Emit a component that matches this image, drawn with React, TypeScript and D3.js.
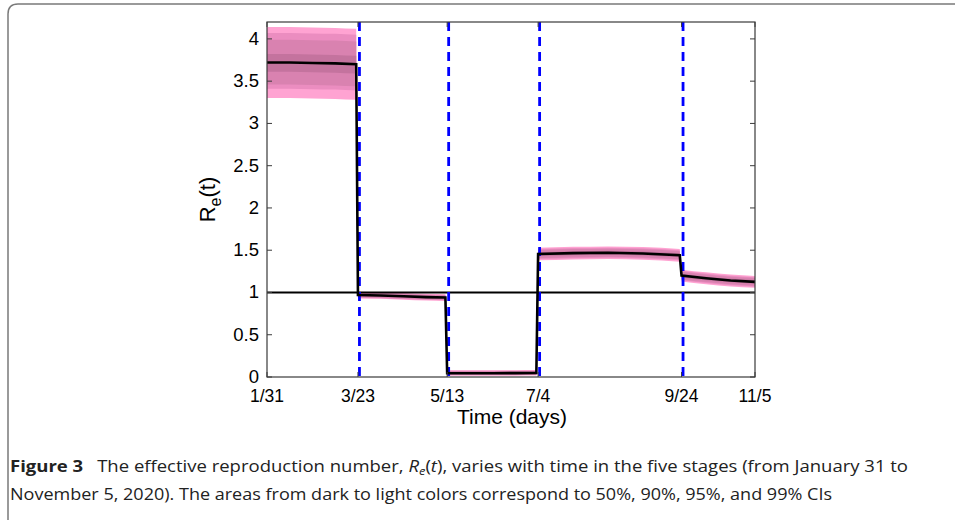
import React from "react";
import * as d3 from "d3";

// Day offsets measured from January 31, 2020
const dashedDays = [52, 103, 155, 237];
const xTickDays = [0, 52, 103, 155, 237, 279];
const xTickLabels = ["1/31", "3/23", "5/13", "7/4", "9/24", "11/5"];
const yTicks = [0, 0.5, 1, 1.5, 2, 2.5, 3, 3.5, 4];
const yTickLabels = ["0", "0.5", "1", "1.5", "2", "2.5", "3", "3.5", "4"];

// Per-stage sample days and median R_e(t)
const stageDays = [
  [0, 13, 26, 39, 51],
  [52, 65, 78, 91, 102],
  [103, 116, 129, 142, 154],
  [155, 175, 195, 215, 236],
  [237, 251, 265, 279],
];
const stageMedian = [
  [3.72, 3.72, 3.715, 3.71, 3.7],
  [0.97, 0.965, 0.955, 0.945, 0.94],
  [0.045, 0.045, 0.045, 0.046, 0.047],
  [1.455, 1.465, 1.47, 1.462, 1.44],
  [1.2, 1.168, 1.142, 1.125],
];
// Offsets below / above the median for the 99%, 95%, 90%, 50% credible bands
const ciLabels = ["99%", "95%", "90%", "50%"];
const ciLower = [
  [0.42, 0.31, 0.26, 0.11],
  [0.04, 0.032, 0.026, 0.012],
  [0.03, 0.022, 0.016, 0.008],
  [0.075, 0.06, 0.048, 0.024],
  [0.07, 0.056, 0.045, 0.022],
];
const ciUpper = [
  [0.42, 0.35, 0.27, 0.1],
  [0.04, 0.032, 0.026, 0.012],
  [0.035, 0.028, 0.022, 0.01],
  [0.075, 0.06, 0.048, 0.024],
  [0.07, 0.056, 0.045, 0.022],
];
const ciColors = ["#ffa3d2", "#eb8dc0", "#d982b0", "#c4739e"];

const W = 955;
const H = 520;
const left = 267;
const right = 755;
const top = 22;
const bottom = 377;

export default function App() {
  const x = d3.scaleLinear().domain([0, 279]).range([left, right]);
  const y = d3.scaleLinear().domain([0, 4.2]).range([bottom, top]);

  const medianPoints: [number, number][] = [];
  stageDays.forEach((days, s) =>
    days.forEach((d, i) => medianPoints.push([d, stageMedian[s][i]]))
  );
  const line = d3
    .line<[number, number]>()
    .x((p) => x(p[0]))
    .y((p) => y(p[1]));

  const bands = stageDays.map((days, s) =>
    ciLabels.map((_, k) => {
      const area = d3
        .area<number>()
        .x((d) => x(d))
        .y0((d, i) => y(stageMedian[s][i] - ciLower[s][k]))
        .y1((d, i) => y(stageMedian[s][i] + ciUpper[s][k]))
        .curve(d3.curveMonotoneX);
      return area(days) as string;
    })
  );

  const axisColor = "#3a3a3a";
  const tickLen = 5;
  const sans = "'Liberation Sans', Arial, sans-serif";

  return (
    <svg
      width={W}
      height={H}
      style={{ position: "fixed", left: 0, top: 0, background: "#fff" }}
    >
      {/* figure frame */}
      <path
        d={`M8 ${H + 2} L8 14 Q8 4 18 4 L${W + 5} 4`}
        fill="none"
        stroke="#7a7a7a"
        strokeWidth={1.5}
      />

      {/* credible bands */}
      {bands.map((stage, s) =>
        stage.map((d, k) => (
          <path key={`b${s}-${k}`} d={d} fill={ciColors[k]} stroke="none" />
        ))
      )}

      {/* reference line R = 1 */}
      <line
        x1={left}
        x2={right}
        y1={y(1)}
        y2={y(1)}
        stroke="#000"
        strokeWidth={2.2}
      />

      {/* stage boundaries */}
      {dashedDays.map((d) => (
        <line
          key={`v${d}`}
          x1={x(d) + 1.5}
          x2={x(d) + 1.5}
          y1={top}
          y2={bottom}
          stroke="#0000ff"
          strokeWidth={2.8}
          strokeDasharray="9 6"
        />
      ))}

      {/* median */}
      <path
        d={line(medianPoints) as string}
        fill="none"
        stroke="#000"
        strokeWidth={2.6}
      />

      {/* axes box */}
      <rect
        x={left}
        y={top}
        width={right - left}
        height={bottom - top}
        fill="none"
        stroke={axisColor}
        strokeWidth={1.2}
      />
      {xTickDays.map((d, i) => (
        <g key={`xt${i}`}>
          <line x1={x(d)} x2={x(d)} y1={bottom} y2={bottom - tickLen} stroke={axisColor} />
          <line x1={x(d)} x2={x(d)} y1={top} y2={top + tickLen} stroke={axisColor} />
          <text
            x={x(d)}
            y={402}
            textAnchor="middle"
            fontFamily={sans}
            fontSize={17.5}
            fill="#000"
          >
            {xTickLabels[i]}
          </text>
        </g>
      ))}
      {yTicks.map((v, i) => (
        <g key={`yt${i}`}>
          <line x1={left} x2={left + tickLen} y1={y(v)} y2={y(v)} stroke={axisColor} />
          <line x1={right} x2={right - tickLen} y1={y(v)} y2={y(v)} stroke={axisColor} />
          <text
            x={259}
            y={y(v) + 6}
            textAnchor="end"
            fontFamily={sans}
            fontSize={18.5}
            fill="#000"
          >
            {yTickLabels[i]}
          </text>
        </g>
      ))}

      {/* axis titles */}
      <text
        x={(left + right) / 2 + 1}
        y={424}
        textAnchor="middle"
        fontFamily={sans}
        fontSize={21}
        fill="#000"
      >
        Time (days)
      </text>
      <text
        transform={`translate(215, ${(top + bottom) / 2}) rotate(-90)`}
        textAnchor="middle"
        fontFamily={sans}
        fontSize={22}
        fill="#000"
      >
        R
        <tspan fontSize={16} dy={6}>
          e
        </tspan>
        <tspan dy={-6}>(t)</tspan>
      </text>

      {/* caption */}
      <text
        x={10}
        y={472}
        fontFamily="'Open Sans', sans-serif"
        fontSize={16.5}
        fill="#222"
        textLength={898}
        lengthAdjust="spacingAndGlyphs"
      >
        <tspan fontWeight="bold">Figure 3</tspan>
        <tspan>{"\u2002 The effective reproduction number, "}</tspan>
        <tspan fontStyle="italic">R</tspan>
        <tspan fontStyle="italic" fontSize={11.5} dy={3}>
          e
        </tspan>
        <tspan dy={-3}>(</tspan>
        <tspan fontStyle="italic">t</tspan>
        <tspan>), varies with time in the five stages (from January 31 to</tspan>
      </text>
      <text
        x={10}
        y={500}
        fontFamily="'Open Sans', sans-serif"
        fontSize={16.5}
        fill="#222"
        textLength={822}
        lengthAdjust="spacingAndGlyphs"
      >
        November 5, 2020). The areas from dark to light colors correspond to 50%, 90%, 95%, and 99% CIs
      </text>
    </svg>
  );
}
